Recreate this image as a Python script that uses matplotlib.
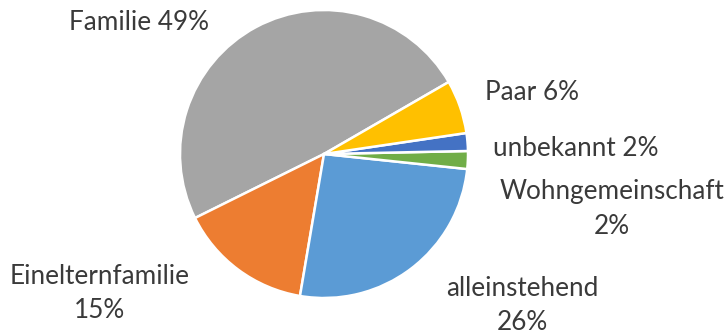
import matplotlib.pyplot as plt

labels = ["Familie", "Einelternfamilie", "alleinstehend", "Wohngemeinschaft", "unbekannt", "Paar"]
shares = [49, 15, 26, 2, 2, 6]
colors = ["#A5A5A5", "#ED7D31", "#5B9BD5", "#70AD47", "#4472C4", "#FFC000"]

# label text and where it sits (pixel coords, y measured from the bottom)
label_text = ["Familie 49%", "Einelternfamilie\n15%", "alleinstehend\n26%",
              "Wohngemeinschaft\n2%", "unbekannt 2%", "Paar 6%"]
label_xy = [(139, 313), (100, 42), (522, 30), (612, 126), (576, 187), (532, 242)]

plt.rcParams["font.family"] = ["Lato", "DejaVu Sans"]

fig = plt.figure(figsize=(7.27, 3.35), dpi=100)
ax = fig.add_axes([0, 0, 1, 1])
ax.set_xlim(0, 727)
ax.set_ylim(0, 335)
ax.set_aspect("equal")
ax.axis("off")

ax.pie(shares, colors=colors, startangle=30, counterclock=True,
       center=(324, 181), radius=144,
       wedgeprops=dict(edgecolor="white", linewidth=1.8))

for txt, (x, y) in zip(label_text, label_xy):
    ax.text(x, y, txt, ha="center", va="center", fontsize=18.8,
            color="#3a3a3a", linespacing=1.45)

ax.set_xlim(0, 727)
ax.set_ylim(0, 335)
fig.savefig("out.png", dpi=100)
